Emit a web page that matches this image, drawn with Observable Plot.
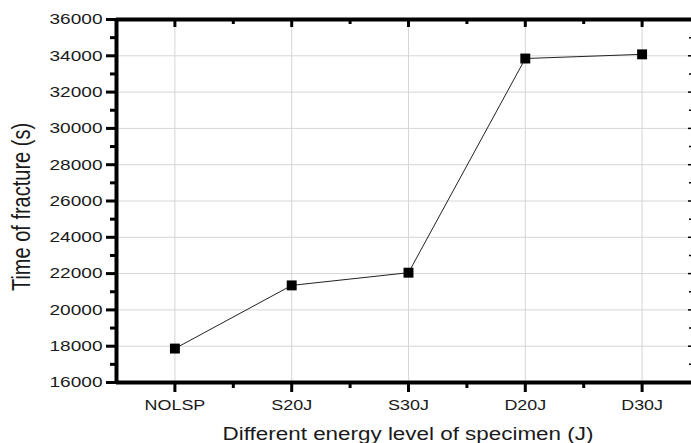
<!DOCTYPE html>
<html><head><meta charset="utf-8">
<script src="https://cdn.jsdelivr.net/npm/d3@7"></script>
<script src="https://cdn.jsdelivr.net/npm/@observablehq/plot@0.6"></script>
<style>
body{margin:0;background:#fff;}
svg text{font-family:"Liberation Sans",Arial,sans-serif;fill:#1a1a1a}
</style></head><body><div id="chart"></div>
<script>
const categories = ["NOLSP", "S20J", "S30J", "D20J", "D30J"];
const fractureTime = [17870, 21350, 22050, 33850, 34080];
const yTicks = [16000, 18000, 20000, 22000, 24000, 26000, 28000, 30000, 32000, 34000, 36000];
const yMinorTicks = [17000, 19000, 21000, 23000, 25000, 27000, 29000, 31000, 33000, 35000];
const xTitle = "Different energy level of specimen (J)";
const yTitle = "Time of fracture (s)";

const data = categories.map((c, i) => ({i, c, t: fractureTime[i]}));
const idx = categories.map((c, i) => i);
const mids = idx.slice(0, -1).map(i => i + 0.5);
const yInner = yTicks.slice(1, -1);
const yMin = yTicks[0], yMax = yTicks[yTicks.length - 1];

const grid = "#d6d6d6";
const W = 691, H = 443, mL = 116, mT = 19, mB = 61, mR = 0;
const fw = W - mL - mR, fh = H - mT - mB;

const chart = Plot.plot({
  width: W, height: H,
  marginLeft: mL, marginRight: mR, marginTop: mT, marginBottom: mB,
  x: {domain: [-0.5, categories.length - 0.5], range: [mL, 700]},
  y: {domain: [yMin, yMax], range: [H - mB, mT]},
  style: {background: "#fff", overflow: "hidden"},
  marks: [
    Plot.ruleX(idx, {x: d => d, stroke: grid, strokeWidth: 1}),
    Plot.ruleY(yInner, {y: d => d, stroke: grid, strokeWidth: 1}),
    Plot.line(data, {x: "i", y: "t", stroke: "#222", strokeWidth: 1}),
    Plot.dot(data, {x: "i", y: "t", symbol: "square", r: 5.6, fill: "#000", stroke: "none"}),
    // mirrored inward ticks (top and right)
    Plot.tickX(idx, {x: d => d, stroke: "#000", strokeWidth: 3, insetBottom: fh - 8}),
    Plot.tickX(mids, {x: d => d, stroke: "#000", strokeWidth: 3, insetBottom: fh - 5}),
    Plot.tickY(yInner, {y: d => d, stroke: "#000", strokeWidth: 1.5, insetLeft: fw - 3}),
    Plot.tickY(yMinorTicks, {y: d => d, stroke: "#000", strokeWidth: 1.5, insetLeft: fw - 2}),
    // axes
    Plot.axisY(yTicks, {anchor: "left", tickSize: 10, tickPadding: 4, fontSize: 15, strokeWidth: 3,
      tickFormat: d => String(d), label: null}),
    Plot.axisY(yMinorTicks, {anchor: "left", tickSize: 6, strokeWidth: 3, tickFormat: () => "", label: null}),
    Plot.axisX(idx, {anchor: "bottom", tickSize: 10, tickPadding: 8, fontSize: 14, strokeWidth: 3,
      tickFormat: i => categories[i], label: null}),
    Plot.axisX(mids, {anchor: "bottom", tickSize: 6, strokeWidth: 3, tickFormat: () => "", label: null}),
    // frame
    Plot.ruleY([yMin, yMax], {y: d => d, stroke: "#000", strokeWidth: 4}),
    Plot.ruleX([-0.5], {x: d => d, stroke: "#000", strokeWidth: 4}),
    // titles
    Plot.text([yTitle], {text: d => d, frameAnchor: "left", textAnchor: "middle", lineAnchor: "middle",
      rotate: -90, dx: -95, dy: 6, fontSize: 20}),
    Plot.text([xTitle], {text: d => d, frameAnchor: "bottom", textAnchor: "middle", lineAnchor: "middle",
      dx: 4, dy: 51.5, fontSize: 18})
  ]
});
document.getElementById("chart").appendChild(chart);

// horizontal stretch of the original rendering
function stretchEl(el, k) {
  const len = el.getComputedTextLength();
  if (len > 0) {
    el.setAttribute("textLength", (len * k).toFixed(1));
    el.setAttribute("lengthAdjust", "spacingAndGlyphs");
  }
}
d3.select(chart).selectAll('[aria-label="y-axis tick label"] text').each(function () { stretchEl(this, 1.27); });
d3.select(chart).selectAll('[aria-label="x-axis tick label"] text').each(function () { stretchEl(this, 1.28); });
d3.select(chart).selectAll("text").each(function () {
  if (this.textContent === xTitle) stretchEl(this, 1.245);
  if (this.textContent === yTitle) {
    const t = this.getAttribute("transform") || "";
    this.setAttribute("transform", t + " scale(1,1.25)");
  }
});
</script></body></html>
